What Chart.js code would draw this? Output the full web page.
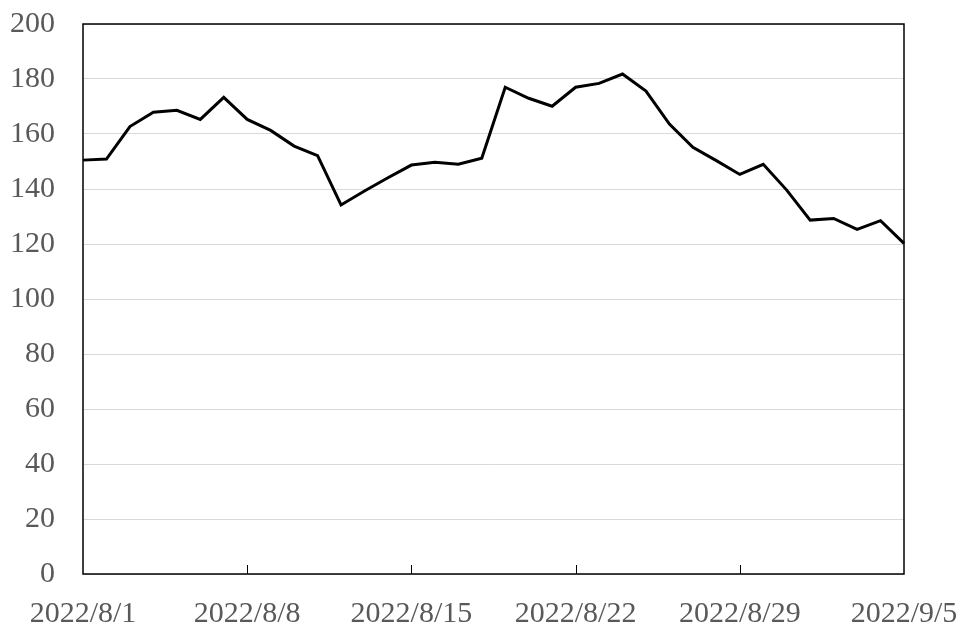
<!DOCTYPE html>
<html>
<head>
<meta charset="utf-8">
<script src="https://cdn.jsdelivr.net/npm/chart.js@4"></script>
<style>
  body { margin: 0; background: #fff; }
  #wrap { width: 976px; height: 638px; }
</style>
</head>
<body>
<div id="wrap"><canvas id="c"></canvas></div>
<script>
// one point per day, 2022/8/1 .. 2022/9/5
const days = [
  '2022/8/1', '2022/8/2', '2022/8/3', '2022/8/4', '2022/8/5', '2022/8/6', '2022/8/7',
  '2022/8/8', '2022/8/9', '2022/8/10', '2022/8/11', '2022/8/12', '2022/8/13', '2022/8/14',
  '2022/8/15', '2022/8/16', '2022/8/17', '2022/8/18', '2022/8/19', '2022/8/20', '2022/8/21',
  '2022/8/22', '2022/8/23', '2022/8/24', '2022/8/25', '2022/8/26', '2022/8/27', '2022/8/28',
  '2022/8/29', '2022/8/30', '2022/8/31', '2022/9/1', '2022/9/2', '2022/9/3', '2022/9/4',
  '2022/9/5'
];
const values = [
  150.5, 150.9, 162.7, 167.9, 168.6, 165.3, 173.3,
  165.3, 161.3, 155.6, 152.1, 134.2, 139.3, 144.1,
  148.7, 149.7, 149.0, 151.2, 177.0, 173.0, 170.1,
  177.0, 178.4, 181.8, 175.6, 163.6, 155.2, 150.3,
  145.3, 149.0, 139.6, 128.7, 129.3, 125.3, 128.5,
  120.2
];
const shownDates = ['2022/8/1', '2022/8/8', '2022/8/15', '2022/8/22', '2022/8/29', '2022/9/5'];

const frameAndTicks = {
  id: 'frameAndTicks',
  afterDatasetsDraw(chart) {
    const { ctx, chartArea: { left, right, top, bottom } } = chart;
    const x = chart.scales.x;
    ctx.save();
    ctx.strokeStyle = '#000';
    ctx.lineWidth = 1.5;
    ctx.strokeRect(left, top, right - left, bottom - top);
    // short ticks pointing into the plot (ends sit on the frame already)
    ctx.beginPath();
    shownDates.slice(1, -1).forEach(d => {
      const px = Math.round(x.getPixelForValue(days.indexOf(d))) + 0.5;
      ctx.moveTo(px, bottom);
      ctx.lineTo(px, bottom - 9);
    });
    ctx.lineWidth = 1;
    ctx.stroke();
    ctx.restore();
  }
};

const serif = '"Liberation Serif", "Times New Roman", serif';

new Chart(document.getElementById('c'), {
  type: 'line',
  data: {
    labels: days,
    datasets: [{
      data: values,
      borderColor: '#000',
      borderWidth: 3,
      pointRadius: 0,
      tension: 0,
      fill: false
    }]
  },
  options: {
    responsive: true,
    maintainAspectRatio: false,
    animation: false,
    events: [],
    layout: { padding: { left: 8, right: 0, top: 0, bottom: 6 } },
    plugins: { legend: { display: false }, tooltip: { enabled: false } },
    scales: {
      x: {
        offset: false,
        grid: { display: false, drawTicks: false },
        border: { display: false },
        afterFit: (s) => { s.height = 58; s.paddingLeft = 0; s.paddingRight = 72; },
        ticks: {
          autoSkip: false,
          maxRotation: 0,
          padding: 22,
          color: '#595959',
          font: { family: serif, size: 30 },
          callback: function (v) {
            const lbl = this.getLabelForValue(v);
            return shownDates.includes(lbl) ? lbl : '';
          }
        }
      },
      y: {
        min: 0,
        max: 200,
        grid: { color: '#d9d9d9', lineWidth: 1, drawTicks: false },
        border: { display: false },
        afterFit: (s) => { s.width = 75; s.paddingTop = 24; s.paddingBottom = 0; },
        ticks: {
          stepSize: 20,
          padding: 28,
          color: '#595959',
          font: { family: serif, size: 30 }
        }
      }
    }
  },
  plugins: [frameAndTicks]
});
</script>
</body>
</html>
